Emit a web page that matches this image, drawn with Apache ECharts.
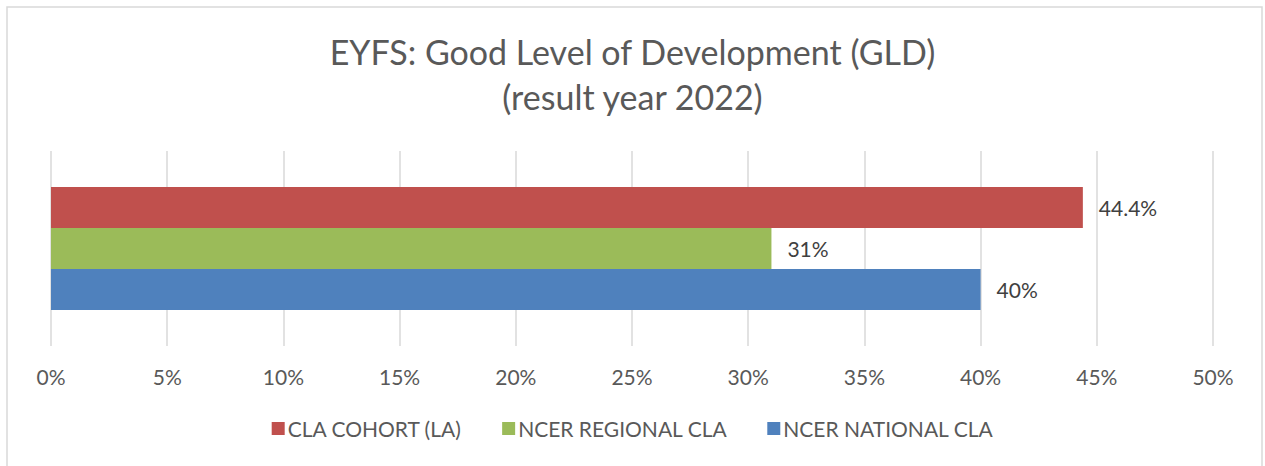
<!DOCTYPE html>
<html>
<head>
<meta charset="utf-8">
<script src="https://cdn.jsdelivr.net/npm/echarts@6/dist/echarts.min.js"></script>
<style>
  html, body { margin: 0; padding: 0; background: #fff; }
  #chart { width: 1265px; height: 466px; }
</style>
</head>
<body>
<div id="chart"></div>
<script>
const categories = ["GLD"];
const seriesNames = ["CLA COHORT (LA)", "NCER REGIONAL CLA", "NCER NATIONAL CLA"];
const cohortValues = [44.4];
const regionalValues = [31];
const nationalValues = [40];
const colors = ["#c0504d", "#9bbb59", "#4f81bd"];
const tickValues = [0, 5, 10, 15, 20, 25, 30, 35, 40, 45, 50];

const font = "Lato, 'Open Sans', sans-serif";

const chart = echarts.init(document.getElementById("chart"), undefined, { renderer: "svg" });

const mkSeries = (name, data, color) => ({
  name,
  type: "bar",
  data,
  barWidth: 41,
  barGap: "0%",
  itemStyle: { color },
  label: {
    show: true,
    position: "right",
    distance: 16,
    formatter: (p) => p.value + "%",
    color: "#404040",
    fontSize: 21,
    fontFamily: font,
  },
});

const option = {
  backgroundColor: "#fff",
  color: colors,
  graphic: [
    {
      type: "rect",
      shape: { x: 7, y: 7, width: 1255, height: 470 },
      style: { fill: "none", stroke: "#d9d9d9", lineWidth: 1.5 },
      silent: true,
    },
  ],
  title: {
    text: "EYFS: Good Level of Development (GLD)\n(result year 2022)",
    left: "center",
    top: 24,
    textStyle: {
      color: "#595959",
      fontSize: 34,
      fontWeight: "normal",
      fontFamily: font,
      lineHeight: 45,
    },
  },
  legend: {
    bottom: 22,
    left: "center",
    itemWidth: 13,
    itemHeight: 13,
    itemGap: 40,
    icon: "rect",
    data: seriesNames,
    textStyle: { color: "#595959", fontSize: 21, fontFamily: font, padding: [0, 0, 0, -2] },
  },
  grid: { left: 51, right: 52, top: 151, bottom: 120 },
  xAxis: {
    type: "value",
    min: tickValues[0],
    max: tickValues[tickValues.length - 1],
    interval: 5,
    axisLine: { show: false },
    axisTick: { show: false },
    splitLine: { lineStyle: { color: "#d9d9d9", width: 1.5 } },
    axisLabel: {
      formatter: "{value}%",
      color: "#595959",
      fontSize: 21,
      fontFamily: font,
      margin: 20,
    },
  },
  yAxis: {
    type: "category",
    data: categories,
    inverse: true,
    axisLine: { show: false },
    axisTick: { show: false },
    axisLabel: { show: false },
  },
  series: [
    mkSeries(seriesNames[0], cohortValues, colors[0]),
    mkSeries(seriesNames[1], regionalValues, colors[1]),
    mkSeries(seriesNames[2], nationalValues, colors[2]),
  ],
};

chart.setOption(option);
</script>
</body>
</html>
